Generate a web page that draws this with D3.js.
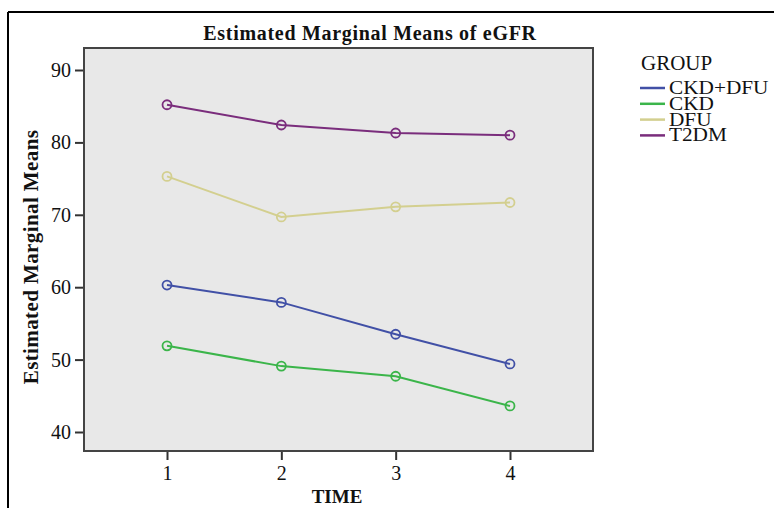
<!DOCTYPE html>
<html>
<head>
<meta charset="utf-8">
<title>Estimated Marginal Means of eGFR</title>
<script src="https://cdn.jsdelivr.net/npm/d3@7/dist/d3.min.js"></script>
<style>
body { margin: 0; background: #fff; }
svg text { font-family: 'Liberation Serif', 'DejaVu Serif', serif; fill: #111; }
</style>
</head>
<body>
<svg width="774" height="508"></svg>
<script>
// data
var times = [1, 2, 3, 4];
var groups = ["CKD+DFU", "CKD", "DFU", "T2DM"];
var colors = ["#4150a6", "#3bb54a", "#d3cf8f", "#7a2d7c"];
var ckdDfu = [60.3, 57.9, 53.5, 49.4];
var ckd = [51.9, 49.1, 47.7, 43.6];
var dfu = [75.3, 69.7, 71.1, 71.7];
var t2dm = [85.2, 82.4, 81.3, 81.0];
var yTicks = [40, 50, 60, 70, 80, 90];

var seriesValues = [ckdDfu, ckd, dfu, t2dm];

var svg = d3.select("svg");

// outer frame (only top and left visible)
svg.append("line").attr("x1", 8).attr("x2", 774).attr("y1", 12).attr("y2", 12)
  .attr("stroke", "#000").attr("stroke-width", 2);
svg.append("line").attr("x1", 8).attr("x2", 8).attr("y1", 12).attr("y2", 508)
  .attr("stroke", "#000").attr("stroke-width", 2);

var plotL = 84, plotR = 593, plotT = 48, plotB = 451;

var x = d3.scaleLinear().domain([0.274, 4.726]).range([plotL, plotR]);
var y = d3.scaleLinear().domain([90, 40]).range([70, 432]);

svg.append("rect").attr("x", plotL).attr("y", plotT)
  .attr("width", plotR - plotL).attr("height", plotB - plotT)
  .attr("fill", "#e8e8e8").attr("stroke", "#444").attr("stroke-width", 2);

// axes
var yAxis = svg.append("g").attr("transform", "translate(" + (plotL - 1) + ",0)")
  .call(d3.axisLeft(y).tickValues(yTicks).tickSize(8).tickPadding(4));
var xAxis = svg.append("g").attr("transform", "translate(0," + (plotB + 1) + ")")
  .call(d3.axisBottom(x).tickValues(times).tickSize(8).tickPadding(6).tickFormat(d3.format("d")));
[yAxis, xAxis].forEach(function (g) {
  g.select(".domain").remove();
  g.selectAll(".tick line").attr("stroke", "#333").attr("stroke-width", 2);
  g.selectAll(".tick text").style("font-size", "20px").attr("fill", "#222");
});

// title and axis titles
svg.append("text").attr("x", 370).attr("y", 40).attr("text-anchor", "middle")
  .style("font-size", "20px").style("font-weight", "bold").style("letter-spacing", "0.7px")
  .text("Estimated Marginal Means of eGFR");
svg.append("text").attr("x", 337).attr("y", 503).attr("text-anchor", "middle")
  .style("font-size", "19px").style("font-weight", "bold").text("TIME");
svg.append("text").attr("transform", "translate(38,257) rotate(-90)").attr("text-anchor", "middle")
  .style("font-size", "21px").style("font-weight", "bold").style("letter-spacing", "0.4px")
  .text("Estimated Marginal Means");

// lines + open markers
var line = d3.line().x(function (d, i) { return x(times[i]); }).y(function (d) { return y(d); });
seriesValues.forEach(function (vals, k) {
  svg.append("path").datum(vals).attr("d", line)
    .attr("fill", "none").attr("stroke", colors[k]).attr("stroke-width", 2);
  svg.selectAll("circle.s" + k).data(vals).enter().append("circle")
    .attr("class", "s" + k)
    .attr("cx", function (d, i) { return x(times[i]); })
    .attr("cy", function (d) { return y(d); })
    .attr("r", 4.5).attr("fill", "none")
    .attr("stroke", colors[k]).attr("stroke-width", 1.8);
});

// legend (glyphs stretched a little sideways, as the tight serif in the picture)
svg.append("text").attr("x", 641).attr("y", 70).style("font-size", "21px").text("GROUP");
groups.forEach(function (g, i) {
  var ly = 88 + i * 15.8;
  svg.append("line").attr("x1", 640).attr("x2", 665).attr("y1", ly).attr("y2", ly)
    .attr("stroke", colors[i]).attr("stroke-width", 2.5);
  svg.append("text").attr("transform", "translate(669," + (ly + 6) + ") scale(1.12,1)")
    .style("font-size", "19px").text(g);
});
</script>
</body>
</html>
